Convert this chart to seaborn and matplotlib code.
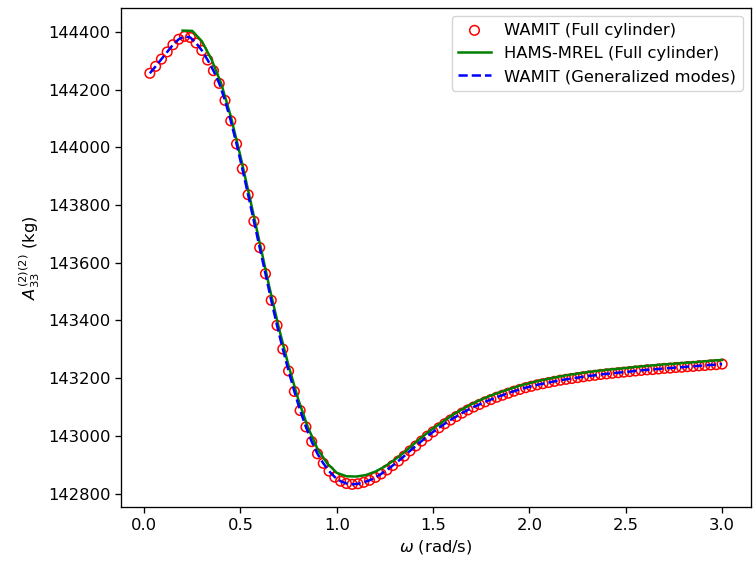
import numpy as np
import matplotlib
matplotlib.use('Agg')
import matplotlib.pyplot as plt
import seaborn as sns

# frequencies (rad/s)
omega_wamit = np.round(np.arange(1, 101) * 0.03, 2)
omega_hams = np.round(np.arange(4, 61) * 0.05, 2)

# added mass A33 (kg), WAMIT full cylinder
a33_wamit = [
    144257, 144281, 144306, 144331, 144356, 144375, 144385, 144381, 144362, 144336,
    144303, 144266, 144222, 144163, 144092, 144012, 143926, 143836, 143744, 143653,
    143562, 143470, 143383, 143301, 143225, 143154, 143088, 143031, 142980, 142938,
    142905, 142878, 142857, 142843, 142835, 142832, 142834, 142839, 142846, 142856,
    142868, 142882, 142897, 142913, 142930, 142948, 142965, 142982, 142999, 143014,
    143028, 143042, 143055, 143067, 143079, 143090, 143100, 143109, 143118, 143126,
    143134, 143141, 143148, 143155, 143161, 143167, 143172, 143177, 143181, 143185,
    143189, 143193, 143196, 143199, 143202, 143205, 143208, 143210, 143213, 143215,
    143217, 143219, 143221, 143223, 143225, 143227, 143229, 143230, 143232, 143234,
    143235, 143237, 143238, 143240, 143241, 143243, 143244, 143246, 143247, 143249,
]

# HAMS-MREL full cylinder
a33_hams = [
    144405, 144404, 144368, 144305, 144222, 144108, 143970, 143822, 143670, 143517,
    143373, 143243, 143127, 143030, 142955, 142905, 142872, 142860, 142859, 142864,
    142876, 142894, 142917, 142943, 142972, 143000, 143026, 143049, 143072, 143092,
    143110, 143126, 143140, 143152, 143163, 143174, 143183, 143191, 143198, 143205,
    143211, 143216, 143221, 143225, 143229, 143232, 143235, 143239, 143242, 143245,
    143248, 143250, 143253, 143255, 143258, 143261, 143263,
]

# WAMIT generalized modes (falls on top of the full-cylinder result)
a33_gen = list(a33_wamit)

fig, ax = plt.subplots(figsize=(7.53, 5.64), dpi=100)
fig.subplots_adjust(left=0.161, right=0.997, bottom=0.101, top=0.986)

sns.scatterplot(x=omega_wamit, y=a33_wamit, ax=ax, marker='o', s=48,
                facecolors='none', edgecolor='red', linewidth=1.1,
                label='WAMIT (Full cylinder)')
sns.lineplot(x=omega_hams, y=a33_hams, ax=ax, color='green', linewidth=1.8,
             sort=False, label='HAMS-MREL (Full cylinder)')
sns.lineplot(x=omega_wamit, y=a33_gen, ax=ax, color='blue', linewidth=1.8,
             linestyle='--', sort=False, label='WAMIT (Generalized modes)')

ax.set_xlabel(r'$\omega$ (rad/s)', fontsize=11.8)
ax.set_ylabel(r'$A_{33}^{(2)(2)}$ (kg)', fontsize=11.8)
ax.tick_params(labelsize=11.8, length=4.2, width=0.95)
for s in ax.spines.values():
    s.set_linewidth(0.95)
ax.legend(loc='upper right', fontsize=11.8)

plt.savefig('out.png', dpi=100)
